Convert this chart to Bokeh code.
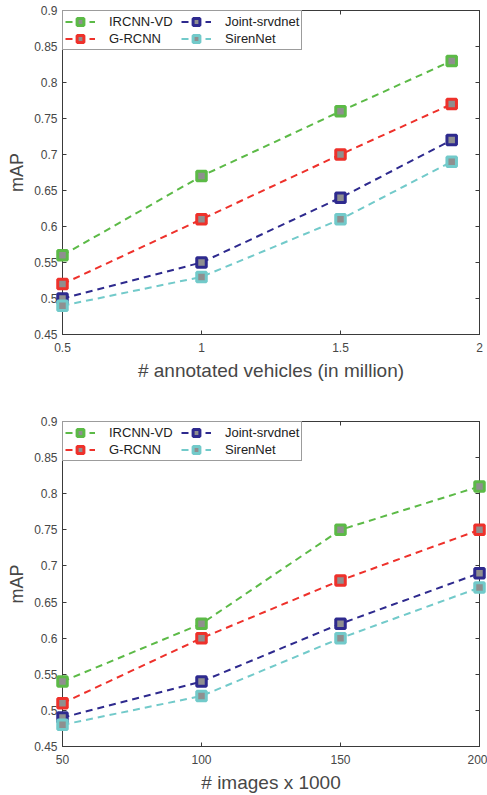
from bokeh.plotting import figure
from bokeh.layouts import column
from bokeh.models import (LinearAxis, FixedTicker, CustomJSTickFormatter, Legend,
                          LegendItem, Range1d)
from bokeh.embed import file_html
from bokeh.resources import INLINE

methods = ["IRCNN-VD", "G-RCNN", "Joint-srvdnet", "SirenNet"]
colors = ["#5cba47", "#ee312b", "#2e2a8e", "#72caca"]

# Top chart: # annotated vehicles (in million)
vehicles_x = [0.5, 1.0, 1.5, 1.9]
vehicles_ircnn = [0.56, 0.67, 0.76, 0.83]
vehicles_grcnn = [0.52, 0.61, 0.70, 0.77]
vehicles_joint = [0.50, 0.55, 0.64, 0.72]
vehicles_siren = [0.49, 0.53, 0.61, 0.69]

# Bottom chart: # images x 1000
images_x = [50, 100, 150, 200]
images_ircnn = [0.54, 0.62, 0.75, 0.81]
images_grcnn = [0.51, 0.60, 0.68, 0.75]
images_joint = [0.49, 0.54, 0.62, 0.69]
images_siren = [0.48, 0.52, 0.60, 0.67]

y_ticks = [0.45, 0.5, 0.55, 0.6, 0.65, 0.7, 0.75, 0.8, 0.85, 0.9]
x_ticks_vehicles = [0.5, 1, 1.5, 2]
x_ticks_images = [50, 100, 150, 200]

FONT = "Liberation Sans"
AX = "#3a3a3a"
TXT = "#474747"


def style_axis(ax, ticks, show_labels=True):
    ax.ticker = FixedTicker(ticks=ticks)
    ax.axis_line_color = AX
    ax.major_tick_line_color = AX
    ax.major_tick_in = 4
    ax.major_tick_out = 0
    ax.minor_tick_line_color = None
    ax.major_label_text_font = FONT
    if show_labels:
        ax.major_label_text_color = TXT
        ax.major_label_text_font_size = "12px"
        ax.formatter = CustomJSTickFormatter(code="return String(Math.round(tick*100)/100)")
    else:
        ax.major_label_text_color = None
        ax.major_label_text_font_size = "1px"
        ax.major_label_standoff = 0
    ax.axis_label_text_font = FONT
    ax.axis_label_text_font_style = "normal"
    ax.axis_label_text_color = TXT


def make(xs, series, xr, xticks, xlabel, h, mbt, mbb):
    p = figure(width=487, height=h, output_backend="svg", toolbar_location=None,
               x_range=Range1d(*xr), y_range=Range1d(0.45, 0.9),
               min_border_left=62, min_border_right=8,
               min_border_top=mbt, min_border_bottom=mbb)
    p.grid.visible = False
    p.outline_line_color = AX
    p.background_fill_color = "white"
    p.border_fill_color = "white"
    items = []
    for name, c, ys in zip(methods, colors, series):
        l = p.line(xs, ys, line_color=c, line_width=2, line_dash="7 5")
        m = p.scatter(xs, ys, marker="square", size=9.5, fill_color="#8f8f8f",
                      line_color=c, line_width=3, level="overlay")
        items.append(LegendItem(label=name, renderers=[l, m]))

    style_axis(p.xaxis[0], xticks)
    style_axis(p.yaxis[0], y_ticks)
    p.xaxis[0].axis_label = xlabel
    p.xaxis[0].axis_label_text_font_size = "19px"
    p.yaxis[0].axis_label = "mAP"
    p.yaxis[0].axis_label_text_font_size = "18px"
    p.xaxis[0].major_label_standoff = 8
    p.xaxis[0].axis_label_standoff = 5
    p.yaxis[0].major_label_standoff = 5
    p.yaxis[0].axis_label_standoff = 4

    ra = LinearAxis()
    style_axis(ra, y_ticks, show_labels=False)
    p.add_layout(ra, "right")
    ta = LinearAxis()
    style_axis(ta, xticks, show_labels=False)
    p.add_layout(ta, "above")

    leg = Legend(items=items, location="top_left", orientation="vertical", nrows=2,
                 margin=0, padding=2, spacing=0, glyph_width=30, glyph_height=17,
                 label_standoff=14, label_width=72, label_height=14,
                 label_text_font=FONT, label_text_font_size="13px",
                 label_text_color="#222222", border_line_color=AX, border_line_width=1,
                 background_fill_color="white", background_fill_alpha=1.0)
    p.add_layout(leg, "center")
    return p


p1 = make(vehicles_x, [vehicles_ircnn, vehicles_grcnn, vehicles_joint, vehicles_siren],
          (0.5, 2.0), x_ticks_vehicles, "# annotated vehicles (in million)", 404, 10, 70)
p2 = make(images_x, [images_ircnn, images_grcnn, images_joint, images_siren],
          (50, 200), x_ticks_images, "# images x 1000", 391, 17, 49)

layout = column(p1, p2, spacing=0)
open("out.html", "w").write(file_html(layout, INLINE))
